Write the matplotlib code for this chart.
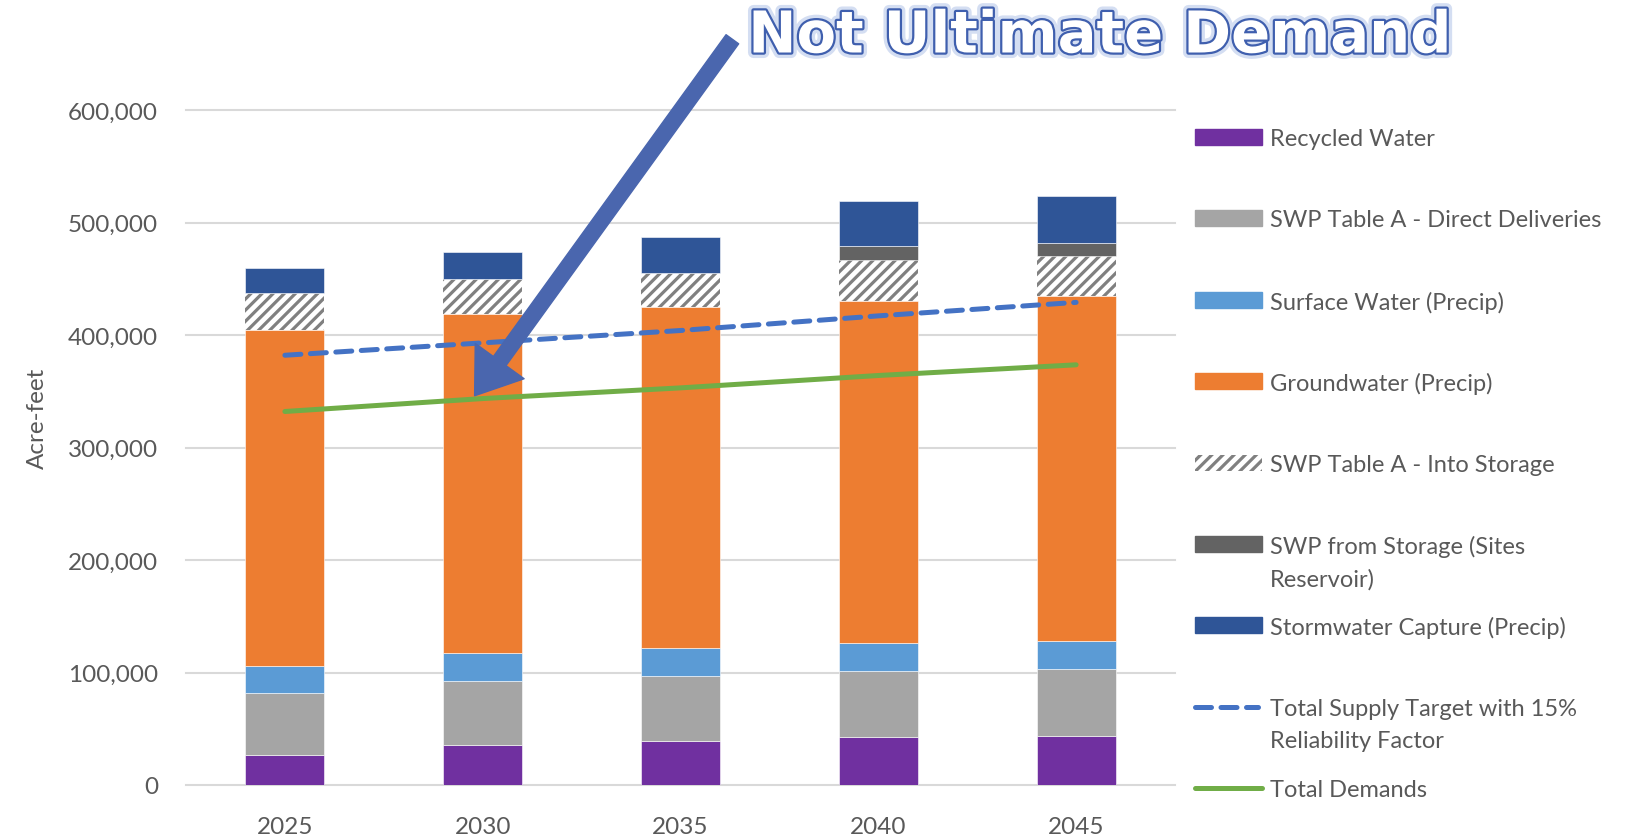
import matplotlib
matplotlib.use("Agg")
import matplotlib.pyplot as plt
import matplotlib.patheffects as pe
from matplotlib.patches import Rectangle, FancyArrowPatch
from matplotlib.lines import Line2D
from matplotlib.ticker import FuncFormatter
import numpy as np

# data (acre-feet)
years = ["2025", "2030", "2035", "2040", "2045"]
recycled = [27000, 36000, 39500, 43000, 44000]
swp_direct = [54500, 56500, 57500, 58000, 59000]
surface = [24500, 25000, 25000, 25000, 25000]
groundwater = [298500, 301000, 302500, 304000, 306500]
swp_into_storage = [32500, 31500, 31000, 37000, 35500]
swp_from_storage = [0, 0, 0, 12000, 12000]
stormwater = [23000, 24000, 31500, 40500, 41500]
supply_target = [382000, 393000, 404000, 417000, 429000]
total_demands = [332000, 343500, 353000, 364000, 373500]

labels = ["Recycled Water", "SWP Table A - Direct Deliveries", "Surface Water (Precip)",
          "Groundwater (Precip)", "SWP Table A - Into Storage",
          "SWP from Storage (Sites\nReservoir)", "Stormwater Capture (Precip)",
          "Total Supply Target with 15%\nReliability Factor", "Total Demands"]

c_purple = "#7030A0"
c_gray = "#A5A5A5"
c_lblue = "#5B9BD5"
c_orange = "#ED7D31"
c_hatch = "#808080"
c_dgray = "#636363"
c_storm = "#2F5597"
c_dash = "#4472C4"
c_green = "#70AD47"
txt = "#595959"

plt.rcParams['font.family'] = ['Lato', 'DejaVu Sans']
plt.rcParams['hatch.linewidth'] = 2.3

W, H = 1629, 837
fig = plt.figure(figsize=(W / 100, H / 100), dpi=100)
ax = fig.add_axes([186 / W, 51 / H, 989 / W, 675 / H])

x = np.arange(len(years))
bw = 0.4
bottom = np.zeros(len(years))
series = [(recycled, c_purple), (swp_direct, c_gray), (surface, c_lblue),
          (groundwater, c_orange), (swp_into_storage, None),
          (swp_from_storage, c_dgray), (stormwater, c_storm)]
for vals, col in series:
    vals = np.array(vals, dtype=float)
    if col is None:
        ax.bar(x, vals, bw, bottom=bottom, facecolor="white", edgecolor=c_hatch,
               hatch="///", linewidth=0, zorder=2)
    else:
        ax.bar(x, vals, bw, bottom=bottom, color=col, edgecolor="white",
               linewidth=0.4, zorder=2)
    bottom += vals

ax.plot(x, supply_target, color=c_dash, lw=3.6, ls=(0, (3.2, 1.9)),
        dash_capstyle="round", solid_capstyle="round", zorder=3)
ax.plot(x, total_demands, color=c_green, lw=3.6, solid_capstyle="round", zorder=3)

ax.set_xlim(-0.5, 4.5)
ax.set_ylim(0, 600000)
ax.set_yticks(np.arange(0, 600001, 100000))
ax.yaxis.set_major_formatter(FuncFormatter(lambda v, p: "{:,.0f}".format(v)))
ax.set_xticks(x)
ax.set_xticklabels(years)
ax.tick_params(axis="both", length=0, labelsize=17.5, colors=txt)
ax.tick_params(axis="y", pad=20)
ax.tick_params(axis="x", pad=22)
ax.grid(axis="y", color="#D9D9D9", lw=1.5, zorder=0)
for gl in ax.get_ygridlines():
    gl.set_clip_on(False)
ax.set_axisbelow(True)
for s in ax.spines.values():
    s.set_visible(False)
ax.set_ylabel("Acre-feet", fontsize=17.5, color=txt)
ax.yaxis.set_label_coords(-138 / 989, 0.545)

# legend drawn by hand to match the spacing
handles = [("patch", c_purple), ("patch", c_gray), ("patch", c_lblue),
           ("patch", c_orange), ("hatch", c_hatch), ("patch", c_dgray),
           ("patch", c_storm), ("dash", c_dash), ("line", c_green)]
y0 = 138
step = 81.4
for i, (kind, col) in enumerate(handles):
    yc = y0 + i * step
    fy = (H - yc) / H
    if kind == "patch":
        fig.patches.append(Rectangle((1195 / W, fy - 8 / H), 67 / W, 16 / H,
                                     transform=fig.transFigure, color=col))
    elif kind == "hatch":
        fig.patches.append(Rectangle((1195 / W, fy - 8 / H), 67 / W, 16 / H,
                                     transform=fig.transFigure, facecolor="white",
                                     edgecolor=col, hatch="///", linewidth=0))
    elif kind == "dash":
        fig.lines.append(Line2D([1195 / W, 1258 / W], [fy, fy], transform=fig.transFigure,
                                color=col, lw=3.6, ls=(0, (3.2, 1.9)),
                                dash_capstyle="round"))
    else:
        fig.lines.append(Line2D([1195 / W, 1262 / W], [fy, fy], transform=fig.transFigure,
                                color=col, lw=3.6, solid_capstyle="round"))
    fig.text(1270 / W, fy + 9 / H, labels[i], fontsize=17, color=txt, va="top",
             ha="left", linespacing=1.65)

# annotation arrow and title
arrow = FancyArrowPatch((734, H - 38), (473, H - 399), transform=None,
                        arrowstyle="simple,head_length=2.2,head_width=3.1,tail_width=0.8",
                        mutation_scale=14, color="#4A66AE", zorder=10)
fig.patches.append(arrow)

fig.text(1100 / W, (H - 37) / H, "Not Ultimate Demand", fontsize=41.5, fontweight="bold",
         family="DejaVu Sans", color="white", ha="center", va="center",
         path_effects=[pe.Stroke(linewidth=8, foreground="#B8C8EA", alpha=0.6),
                       pe.Stroke(linewidth=3.2, foreground="#3F5FAE"),
                       pe.Normal()])

fig.savefig("out.png", dpi=100)
